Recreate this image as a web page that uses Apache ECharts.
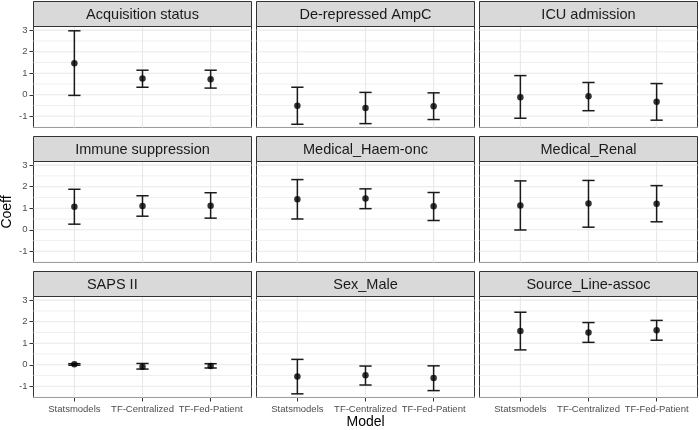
<!DOCTYPE html>
<html>
<head>
<meta charset="utf-8">
<script src="https://cdn.jsdelivr.net/npm/echarts@6/dist/echarts.min.js"></script>
<style>
html,body{margin:0;padding:0;background:#fff;}
#chart{width:699px;height:430px;}
</style>
</head>
<body>
<div id="chart"></div>
<script>
// ---- data ----
const facets = ['Acquisition status', 'De-repressed AmpC', 'ICU admission',
  'Immune suppression', 'Medical_Haem-onc', 'Medical_Renal',
  'SAPS II               ', 'Sex_Male', 'Source_Line-assoc'];
const models = ['Statsmodels', 'TF-Centralized', 'TF-Fed-Patient'];
const coefEst = [
  [1.46, 0.76, 0.72],
  [-0.51, -0.61, -0.53],
  [-0.11, -0.07, -0.32],
  [1.07, 1.10, 1.12],
  [1.42, 1.45, 1.09],
  [1.13, 1.22, 1.21],
  [0.02, -0.09, -0.06],
  [-0.55, -0.49, -0.61],
  [1.57, 1.50, 1.60]
];
const coefLow = [
  [-0.03, 0.35, 0.31],
  [-1.37, -1.34, -1.15],
  [-1.09, -0.74, -1.18],
  [0.26, 0.63, 0.54],
  [0.50, 0.98, 0.43],
  [-0.01, 0.12, 0.37],
  [-0.02, -0.20, -0.15],
  [-1.35, -0.94, -1.20],
  [0.69, 1.04, 1.14]
];
const coefHigh = [
  [2.97, 1.14, 1.14],
  [0.35, 0.11, 0.09],
  [0.89, 0.57, 0.52],
  [1.88, 1.58, 1.72],
  [2.33, 1.90, 1.73],
  [2.27, 2.29, 2.05],
  [0.05, 0.06, 0.05],
  [0.25, -0.06, -0.05],
  [2.44, 1.96, 2.06]
];
const yTicks = [-1, 0, 1, 2, 3];
const yMinorTicks = [-1.5, -0.5, 0.5, 1.5, 2.5];
const xTicks = [1, 2, 3];

// ---- layout ----
const colLeft = [33.5, 256.5, 479.5];
const rowTop = [1.5, 136.5, 271.5];
const panelW = 218, stripH = 25, panelH = 101;
const yMin = -1.52, yMax = 3.17;
const xMin = 0.4, xMax = 3.6;
const capW = 0.18;
const FONT = '"Liberation Sans", Arial, Helvetica, sans-serif';

// grid line items: [value, kind] kind 0 = major horizontal, 1 = minor horizontal, 2 = vertical
const gridItems = yTicks.map(v => [v, 0])
  .concat(yMinorTicks.map(v => [v, 1]))
  .concat(xTicks.map(v => [v, 2]));

const grids = [], xAxes = [], yAxes = [], series = [], graphics = [];
facets.forEach((name, i) => {
  const r = Math.floor(i / 3), c = i % 3;
  const isLeft = c === 0, isBottom = r === 2;
  grids.push({
    left: colLeft[c], top: rowTop[r] + stripH, width: panelW, height: panelH,
    show: true, backgroundColor: '#ffffff', borderColor: '#333333', borderWidth: 1
  });
  xAxes.push({
    type: 'value', gridIndex: i, min: xMin, max: xMax, splitNumber: 3, position: 'bottom',
    axisLine: { show: false, onZero: false },
    axisTick: { show: isBottom, customValues: xTicks, length: 4, lineStyle: { color: '#333333', width: 1 } },
    axisLabel: {
      show: isBottom, customValues: xTicks, margin: 7, color: '#4d4d4d',
      fontSize: 9.5, fontFamily: FONT,
      formatter: v => models[Math.round(v) - 1] || ''
    },
    splitLine: { show: false }
  });
  yAxes.push({
    type: 'value', gridIndex: i, min: yMin, max: yMax, splitNumber: 5, position: 'left',
    axisLine: { show: false, onZero: false },
    axisTick: { show: isLeft, customValues: yTicks, length: 4, lineStyle: { color: '#333333', width: 1 } },
    axisLabel: { show: isLeft, customValues: yTicks, margin: 6, color: '#4d4d4d', fontSize: 9.5, fontFamily: FONT },
    splitLine: { show: false },
    minorSplitLine: { show: false }
  });
  // panel grid lines
  series.push({
    type: 'custom', xAxisIndex: i, yAxisIndex: i, z: 1, silent: true,
    data: gridItems,
    renderItem: (params, api) => {
      const v = api.value(0), kind = api.value(1);
      const cs = params.coordSys;
      if (kind === 2) {
        const x = api.coord([v, yMin])[0];
        return { type: 'line', shape: { x1: x, y1: cs.y, x2: x, y2: cs.y + cs.height },
          style: { stroke: '#e8e8e8', lineWidth: 1.1 } };
      }
      const y = api.coord([xMin, v])[1];
      return { type: 'line', shape: { x1: cs.x, y1: y, x2: cs.x + cs.width, y2: y },
        style: { stroke: kind === 0 ? '#e8e8e8' : '#f0f0f0', lineWidth: kind === 0 ? 1.1 : 1 } };
    }
  });
  // error bars
  series.push({
    type: 'custom', xAxisIndex: i, yAxisIndex: i, z: 3,
    data: models.map((m, k) => [k + 1, coefLow[i][k], coefHigh[i][k]]),
    renderItem: (params, api) => {
      const x = api.value(0), lo = api.value(1), hi = api.value(2);
      const pLo = api.coord([x, lo]), pHi = api.coord([x, hi]);
      const half = api.size([capW, 0])[0] / 2;
      const st = { stroke: '#1a1a1a', lineWidth: 1.5 };
      return {
        type: 'group', children: [
          { type: 'line', shape: { x1: pLo[0], y1: pLo[1], x2: pHi[0], y2: pHi[1] }, style: st },
          { type: 'line', shape: { x1: pHi[0] - half, y1: pHi[1], x2: pHi[0] + half, y2: pHi[1] }, style: st },
          { type: 'line', shape: { x1: pLo[0] - half, y1: pLo[1], x2: pLo[0] + half, y2: pLo[1] }, style: st }
        ]
      };
    }
  });
  // point estimates
  series.push({
    type: 'scatter', xAxisIndex: i, yAxisIndex: i, z: 4,
    symbol: 'circle', symbolSize: 6.5,
    itemStyle: { color: '#000000' },
    data: models.map((m, k) => [k + 1, coefEst[i][k]])
  });
  // strip
  graphics.push({
    type: 'rect', z: 10,
    shape: { x: colLeft[c], y: rowTop[r], width: panelW, height: stripH },
    style: { fill: '#d9d9d9', stroke: '#333333', lineWidth: 1 }
  });
  graphics.push({
    type: 'text', z: 11,
    x: colLeft[c] + panelW / 2, y: rowTop[r] + stripH / 2 + 0.5,
    style: { text: name, fill: '#1a1a1a', font: '14.5px ' + FONT, align: 'center', verticalAlign: 'middle' }
  });
});

graphics.push({
  type: 'text', z: 11, x: 7.5, y: 212, rotation: Math.PI / 2,
  style: { text: 'Coeff', fill: '#000', font: '14px ' + FONT, align: 'center', verticalAlign: 'middle' }
});
graphics.push({
  type: 'text', z: 11, x: 365.6, y: 422.5,
  style: { text: 'Model', fill: '#000', font: '14px ' + FONT, align: 'center', verticalAlign: 'middle' }
});

const chart = echarts.init(document.getElementById('chart'), null, { renderer: 'canvas' });
chart.setOption({
  animation: false,
  backgroundColor: '#ffffff',
  grid: grids, xAxis: xAxes, yAxis: yAxes, series: series,
  graphic: graphics
});
</script>
</body>
</html>
